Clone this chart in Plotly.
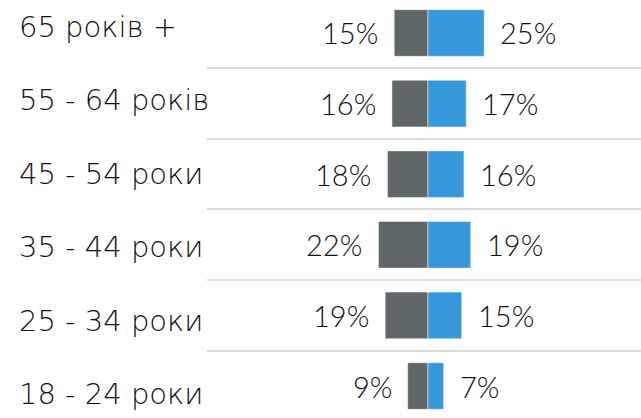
import plotly.graph_objects as go

categories = ["65 років +", "55 - 64 років", "45 - 54 роки", "35 - 44 роки", "25 - 34 роки", "18 - 24 роки"]
left_values = [15, 16, 18, 22, 19, 9]     # gray
right_values = [25, 17, 16, 19, 15, 7]    # blue

GRAY = "#5f6769"
BLUE = "#3798db"
FONT = "Lato"
CAT_FONT = "DejaVu Sans"

n = len(categories)
ypos = [n - 1 - i for i in range(n)]  # top category at top

fig = go.Figure()
fig.add_trace(go.Bar(
    y=ypos, x=[-v for v in left_values], orientation="h",
    marker=dict(color=GRAY, line=dict(color="rgba(255,255,255,0.6)", width=0.8)),
    width=0.66, hoverinfo="skip",
))
fig.add_trace(go.Bar(
    y=ypos, x=right_values, orientation="h",
    marker=dict(color=BLUE, line=dict(color="rgba(255,255,255,0.6)", width=0.8)),
    width=0.66, hoverinfo="skip",
))

annotations = []
for yy, lv, rv in zip(ypos, left_values, right_values):
    annotations.append(dict(x=-lv, y=yy, xref="x", yref="y", text=f"{lv}%",
                            xanchor="right", yanchor="middle", xshift=-14, showarrow=False,
                            font=dict(family=FONT, size=29, color="#111111", weight=300)))
    annotations.append(dict(x=rv, y=yy, xref="x", yref="y", text=f"{rv}%",
                            xanchor="left", yanchor="middle", xshift=14, showarrow=False,
                            font=dict(family=FONT, size=29, color="#111111", weight=300)))

H = 418
W = 641
L = 207
for i, cat in enumerate(categories):
    cy = 27 + i * 73.4
    annotations.append(dict(x=-(L - 17) / (W - L), y=1 - cy / H, xref="paper", yref="paper",
                            text=cat, xanchor="left", yanchor="middle", showarrow=False,
                            font=dict(family=CAT_FONT, size=29, color="#111111", weight=300)))

fig.update_layout(
    width=W, height=H,
    margin=dict(l=L, r=0, t=0, b=0),
    paper_bgcolor="white", plot_bgcolor="white",
    barmode="overlay", showlegend=False,
    annotations=annotations,
    xaxis=dict(range=[-98.2, 94.7], visible=False, fixedrange=True),
    yaxis=dict(range=[-0.453, 5.467], tickvals=[k + 0.5 for k in range(n - 1)],
               showticklabels=False, showgrid=True, gridcolor="#dddddd", gridwidth=2,
               zeroline=False, fixedrange=True),
)

fig.write_html("out.html", config={"displayModeBar": False},
               post_script="document.body.style.margin='0';document.body.style.padding='0';")
